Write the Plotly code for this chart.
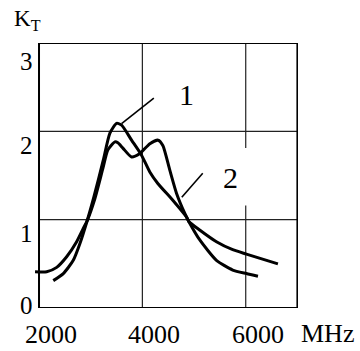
import plotly.graph_objects as go

# ---------------- data ----------------
curve1_f = [2276, 2470, 2663, 2792, 2933, 3063, 3242, 3372, 3501, 3598, 3791, 3984,
            4144, 4299, 4589, 4854, 4898, 5115, 5433, 5748, 6013, 6623]
curve1_k = [0.31, 0.39, 0.54, 0.73, 0.99, 1.26, 1.67, 1.98, 2.09, 2.07, 1.90, 1.73,
            1.54, 1.41, 1.22, 1.03, 0.98, 0.88, 0.75, 0.66, 0.61, 0.50]

curve2_f = [1923, 2149, 2342, 2535, 2728, 2856, 2933, 3082, 3236, 3333, 3468, 3526,
            3623, 3791, 3951, 4145, 4305, 4396, 4531, 4660, 4821, 4898, 5111, 5433,
            5748, 6013, 6237]
curve2_k = [0.41, 0.41, 0.46, 0.58, 0.75, 0.90, 0.99, 1.24, 1.58, 1.79, 1.88, 1.87,
            1.81, 1.71, 1.75, 1.86, 1.90, 1.84, 1.56, 1.30, 1.07, 0.98, 0.77, 0.54,
            0.43, 0.39, 0.36]

leader1_f = [3598, 4222]
leader1_k = [2.087, 2.377]
leader2_f = [4763, 5168]
leader2_k = [1.254, 1.525]

label1 = ("1", 4863, 2.42)
label2 = ("2", 5696, 1.48)

x_ticks = [2000, 4000, 6000]
x_tick_labels = ["2000", "4000", "6000"]
y_ticks = [0, 1, 2, 3]
y_tick_labels = ["0", "1", "2", "3"]
x_unit = "MHz"
y_title = "K<sub>T</sub>"

x_min, x_max = 2000, 7000
y_min, y_max = 0, 3

# ---------------- layout geometry ----------------
W, H = 360, 351
L, R, T, B = 34, 62, 43, 43
PW, PH = W - L - R, H - T - B
XR = [1903, 1903 + PW * 19.35]

FONT = "Liberation Serif"

def px_x(px):
    return (px - L) / PW

def px_y(py):
    return 1 - (py - T) / PH

fig = go.Figure()

line_style = dict(color="black", width=3)
fig.add_trace(go.Scatter(x=curve1_f, y=curve1_k, mode="lines",
                         line=dict(**line_style, shape="spline", smoothing=0.6),
                         showlegend=False, hoverinfo="skip"))
fig.add_trace(go.Scatter(x=curve2_f, y=curve2_k, mode="lines",
                         line=dict(**line_style, shape="spline", smoothing=0.6),
                         showlegend=False, hoverinfo="skip"))
fig.add_trace(go.Scatter(x=leader1_f, y=leader1_k, mode="lines",
                         line=dict(color="black", width=1.6),
                         showlegend=False, hoverinfo="skip"))
fig.add_trace(go.Scatter(x=leader2_f, y=leader2_k, mode="lines",
                         line=dict(color="black", width=1.6),
                         showlegend=False, hoverinfo="skip"))

shapes = []
grid = dict(color="#222", width=1.2)
for yv in y_ticks[1:-1]:
    shapes.append(dict(type="line", xref="x", yref="y", x0=x_min, x1=x_max,
                       y0=yv, y1=yv, line=grid, layer="below"))
shapes.append(dict(type="line", xref="x", yref="y", x0=4000, x1=4000,
                   y0=y_min, y1=y_max, line=grid, layer="below"))
shapes.append(dict(type="line", xref="x", yref="y", x0=6000, x1=6000,
                   y0=y_min, y1=1.16, line=grid, layer="below"))
shapes.append(dict(type="line", xref="x", yref="y", x0=6000, x1=6000,
                   y0=1.81, y1=y_max, line=grid, layer="below"))
shapes.append(dict(type="rect", xref="x", yref="y", x0=x_min, x1=x_max,
                   y0=y_min, y1=y_max, line=dict(color="black", width=2),
                   layer="below"))

ann = []
tick_font = dict(family=FONT, size=26, color="black")
for xv, txt in zip(x_ticks, x_tick_labels):
    ann.append(dict(x=xv, xref="x", y=px_y(334), yref="paper", text=txt,
                    showarrow=False, xanchor="center", yanchor="middle",
                    xshift=12, font=tick_font))
ann.append(dict(x=px_x(327), xref="paper", y=px_y(333), yref="paper", text=x_unit,
                showarrow=False, xanchor="center", yanchor="middle", font=tick_font))

y_label_shift = [3, -14, -14, -18]
for yv, txt, sh in zip(y_ticks, y_tick_labels, y_label_shift):
    ann.append(dict(x=px_x(35), xref="paper", y=yv, yref="y", text=txt,
                    showarrow=False, xanchor="right", yanchor="middle",
                    yshift=sh, font=dict(family=FONT, size=25, color="black")))

ann.append(dict(x=px_x(12), xref="paper", y=px_y(20), yref="paper", text=y_title,
                showarrow=False, xanchor="left", yanchor="middle",
                font=dict(family=FONT, size=23, color="black")))

for txt, fx, ky in (label1, label2):
    ann.append(dict(x=fx, xref="x", y=ky, yref="y", text=txt, showarrow=False,
                    xanchor="center", yanchor="middle",
                    font=dict(family=FONT, size=30, color="black")))

fig.update_layout(
    width=W, height=H,
    margin=dict(l=L, r=R, t=T, b=B, pad=0),
    paper_bgcolor="white", plot_bgcolor="white",
    font=dict(family=FONT, color="black"),
    xaxis=dict(range=XR, showgrid=False, zeroline=False, showline=False,
               showticklabels=False, ticks=""),
    yaxis=dict(range=[y_min, y_max], showgrid=False, zeroline=False, showline=False,
               showticklabels=False, ticks=""),
    shapes=shapes, annotations=ann, showlegend=False,
)

fig.write_html("out.html", config={"displayModeBar": False},
               post_script="document.body.style.margin='0';document.body.style.padding='0';")
